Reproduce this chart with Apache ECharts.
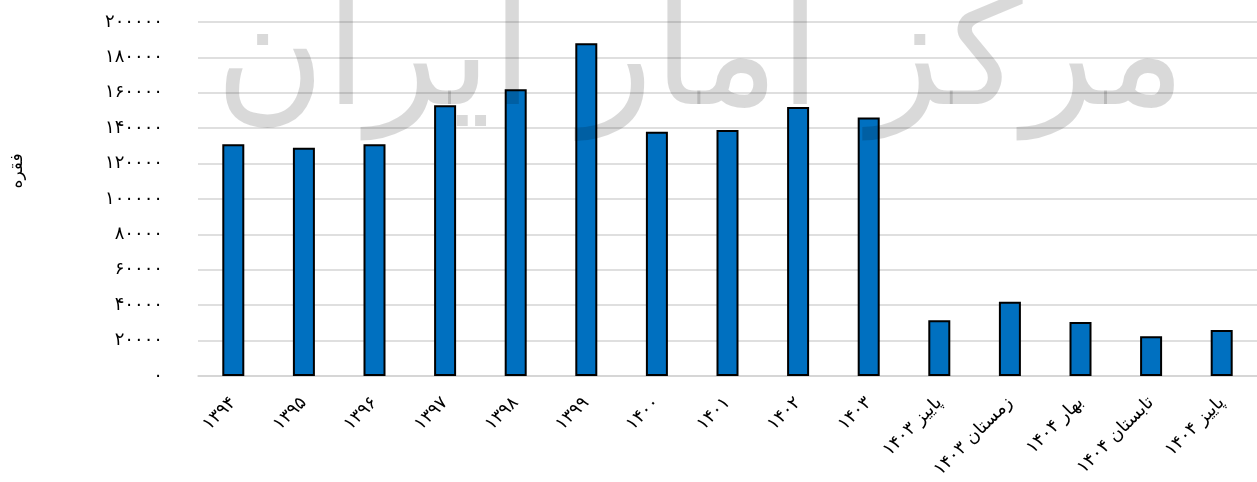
<!DOCTYPE html>
<html>
<head>
<meta charset="utf-8">
<script src="https://cdn.jsdelivr.net/npm/echarts@6/dist/echarts.min.js"></script>
<style>
  html, body { margin: 0; padding: 0; background: #fff; }
  #chart { width: 1257px; height: 482px; }
</style>
</head>
<body>
<div id="chart"></div>
<script>
// دسته‌ها و مقادیر (فقره)
const categories = ['۱۳۹۴', '۱۳۹۵', '۱۳۹۶', '۱۳۹۷', '۱۳۹۸', '۱۳۹۹', '۱۴۰۰', '۱۴۰۱', '۱۴۰۲', '۱۴۰۳',
  'پاییز ۱۴۰۳', 'زمستان ۱۴۰۳', 'بهار ۱۴۰۴', 'تابستان ۱۴۰۴', 'پاییز ۱۴۰۴']
const values = [131000, 129000, 131000, 153000, 162000, 188000, 138000, 139000, 152000, 146000,
  31500, 42000, 30500, 22500, 26000]
const yMin = 0
const yMax = 200000
const yStep = 20000
const yName = 'فقره'
const watermark = 'مرکز آمار ایران'

const faDigits = ['۰', '۱', '۲', '۳', '۴', '۵', '۶', '۷', '۸', '۹']
const toFa = (v) => String(v).replace(/\d/g, d => faDigits[d])

const fontFamily = '"DejaVu Sans", "Noto Sans", sans-serif'

const chart = echarts.init(document.getElementById('chart'))

chart.setOption({
  animation: false,
  grid: { left: 198, width: 1064, top: 22, bottom: 106, containLabel: false },
  xAxis: {
    type: 'category',
    data: categories,
    axisLine: { lineStyle: { color: '#d4d4d4', width: 1.5 } },
    axisTick: { show: false },
    axisLabel: {
      rotate: 45,
      interval: 0,
      margin: 24,
      fontSize: 18,
      color: '#000',
      fontFamily: fontFamily
    }
  },
  yAxis: {
    type: 'value',
    min: yMin,
    max: yMax,
    interval: yStep,
    name: yName,
    nameLocation: 'middle',
    nameRotate: 90,
    nameGap: 172,
    nameTextStyle: { fontSize: 17, color: '#000', fontFamily: fontFamily, padding: [0, 0, 0, 56] },
    axisLine: { show: false },
    axisTick: { show: false },
    axisLabel: {
      margin: 35,
      fontSize: 18,
      color: '#000',
      fontFamily: fontFamily,
      formatter: (v) => toFa(v)
    },
    splitLine: { lineStyle: { color: '#d4d4d4', width: 1.5 } }
  },
  graphic: [{
    type: 'text',
    left: 215,
    top: -10,
    z: 100,
    silent: true,
    style: {
      text: watermark,
      fontSize: 150,
      fontFamily: fontFamily,
      fill: 'rgba(0,0,0,0.15)'
    }
  }],
  series: [{
    type: 'bar',
    data: values,
    barWidth: 22,
    itemStyle: { color: '#0070C0', borderColor: '#000', borderWidth: 2 }
  }]
})
</script>
</body>
</html>
